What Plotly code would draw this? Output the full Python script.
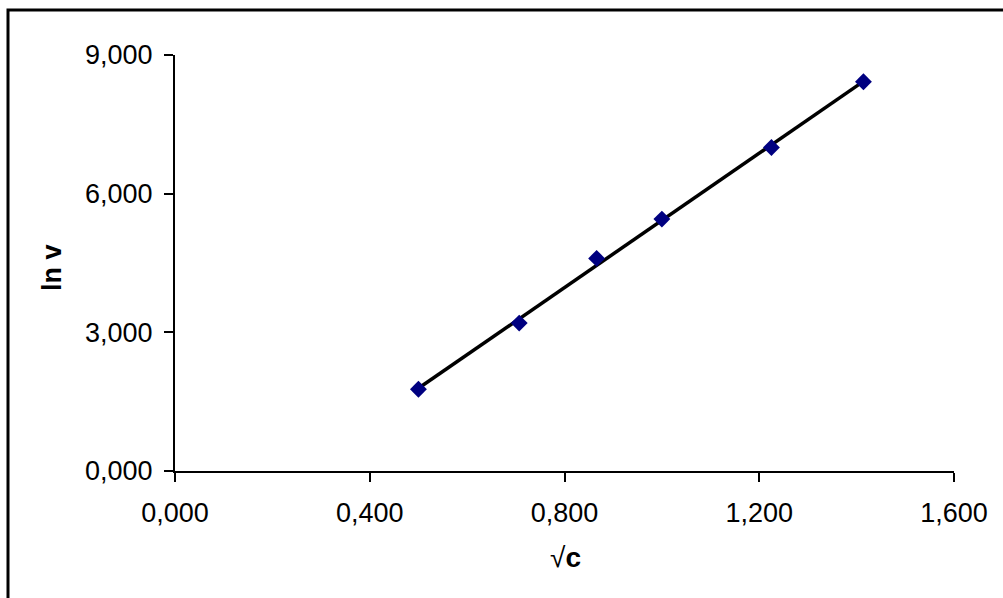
import numpy as np
import plotly.graph_objects as go

# Data
sqrt_c = [0.500, 0.707, 0.866, 1.000, 1.225, 1.414]
ln_v = [1.77, 3.20, 4.60, 5.45, 7.00, 8.42]

x_ticks = [0.0, 0.4, 0.8, 1.2, 1.6]
y_ticks = [0.0, 3.0, 6.0, 9.0]

W, H = 1003, 598
ML, MR, MT, MB = 175, 49, 55, 127
PW = W - ML - MR
PH = H - MT - MB

def px_x(p):
    return (p - ML) / PW

def px_y(p):
    return 1 - (p - MT) / PH

font_family = "Liberation Sans, Arial, sans-serif"
FS = 27

# Linear trendline from data
slope, intercept = np.polyfit(sqrt_c, ln_v, 1)
tx = [min(sqrt_c), max(sqrt_c)]
ty = [slope * v + intercept for v in tx]

fig = go.Figure()
fig.add_trace(go.Scatter(
    x=tx, y=ty, mode="lines",
    line=dict(color="black", width=3.5),
    hoverinfo="skip", showlegend=False,
))
fig.add_trace(go.Scatter(
    x=sqrt_c, y=ln_v, mode="markers",
    marker=dict(symbol="diamond", size=13, color="#000080",
                line=dict(width=0)),
    showlegend=False,
))

fig.update_layout(
    width=W, height=H,
    margin=dict(l=ML, r=MR, t=MT, b=MB, pad=0),
    paper_bgcolor="white", plot_bgcolor="white",
    separators=", ",
    font=dict(family=font_family, size=FS, color="black"),
    xaxis=dict(
        range=[0, 1.6], tickvals=x_ticks, tickformat=".3f",
        showgrid=False, zeroline=False,
        showline=True, linecolor="black", linewidth=2,
        ticks="outside", ticklen=9, tickwidth=2, tickcolor="black",
        tickfont=dict(size=FS),
        ticklabelstandoff=8,
    ),
    yaxis=dict(
        range=[0, 9], tickvals=y_ticks, tickformat=".3f",
        showgrid=False, zeroline=False,
        showline=True, linecolor="black", linewidth=2,
        ticks="outside", ticklen=9, tickwidth=2, tickcolor="black",
        tickfont=dict(size=FS),
        ticklabelstandoff=6,
    ),
    shapes=[dict(
        type="rect", xref="paper", yref="paper",
        x0=px_x(8), x1=px_x(W + 20), y0=px_y(H + 20), y1=px_y(10),
        line=dict(color="black", width=3), fillcolor="rgba(0,0,0,0)",
        layer="above",
    )],
    annotations=[
        dict(text="√<b>c</b>", xref="paper", yref="paper",
             x=px_x(565), y=px_y(557), showarrow=False,
             xanchor="center", yanchor="middle",
             font=dict(size=28, family=font_family)),
        dict(text="<b>ln v</b>", xref="paper", yref="paper",
             x=px_x(52), y=px_y(268), showarrow=False, textangle=-90,
             xanchor="center", yanchor="middle",
             font=dict(size=FS, family=font_family)),
    ],
)

fig.write_html("out.html")
